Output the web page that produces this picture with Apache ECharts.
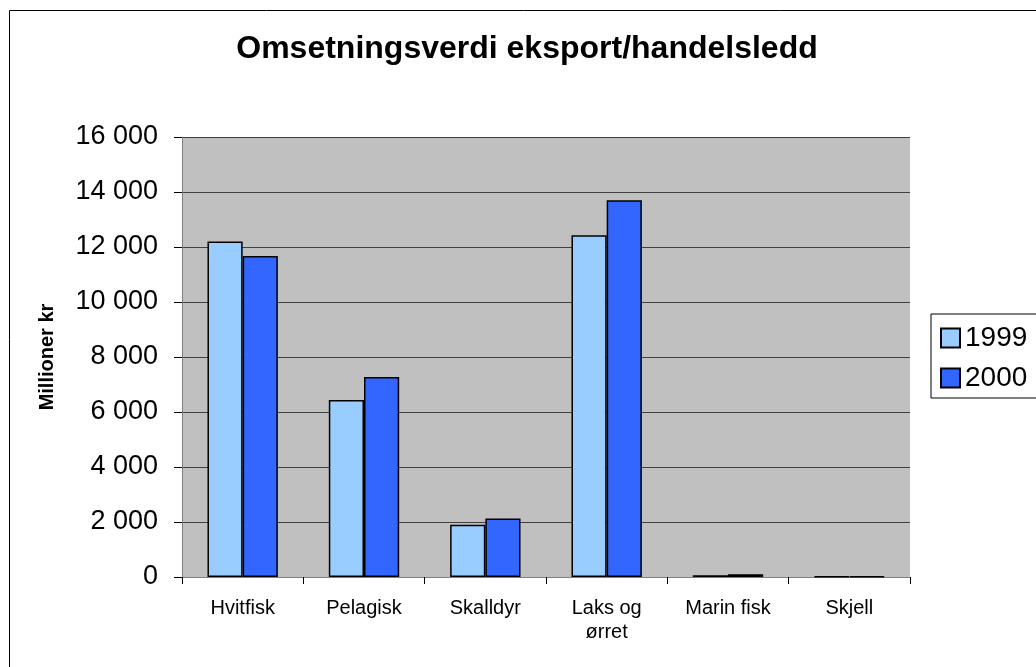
<!DOCTYPE html>
<html>
<head>
<meta charset="utf-8">
<script src="https://cdn.jsdelivr.net/npm/echarts@6/dist/echarts.min.js"></script>
<style>
  html, body { margin: 0; padding: 0; background: #fff; }
  #chart { width: 1036px; height: 667px; }
</style>
</head>
<body>
<div id="chart"></div>
<script>
var categories = ['Hvitfisk', 'Pelagisk', 'Skalldyr', 'Laks og\nørret', 'Marin fisk', 'Skjell'];
var values1999 = [12200, 6440, 1900, 12430, 60, 20];
var values2000 = [11670, 7270, 2130, 13700, 100, 20];
var yTicks = [0, 2000, 4000, 6000, 8000, 10000, 12000, 14000, 16000];

var font = 'Liberation Sans, Arial, sans-serif';

function fmt(v) {
  return String(v).replace(/\B(?=(\d{3})+(?!\d))/g, ' ');
}

var chart = echarts.init(document.getElementById('chart'));
var option = {
  backgroundColor: '#fff',
  animation: false,
  textStyle: { fontFamily: font, color: '#000' },
  title: {
    text: 'Omsetningsverdi eksport/handelsledd',
    left: 522, top: 28, textAlign: 'center',
    textStyle: { fontFamily: font, fontSize: 32, fontWeight: 'bold', color: '#000' }
  },
  graphic: [{
    type: 'rect', z: -1,
    shape: { x: 9.5, y: 10.5, width: 1040, height: 680 },
    style: { fill: 'none', stroke: '#000', lineWidth: 1 }
  }],
  legend: {
    orient: 'vertical',
    left: 931, top: 314,
    padding: [10, 30, 6, 9],
    itemGap: 12,
    itemWidth: 19, itemHeight: 19,
    borderColor: '#000', borderWidth: 1,
    backgroundColor: '#fff',
    icon: 'rect',
    textStyle: { fontFamily: font, fontSize: 28, color: '#000', lineHeight: 28 },
    data: ['1999', '2000']
  },
  grid: { left: 182, right: 126, top: 137, bottom: 90 },
  xAxis: {
    type: 'category',
    data: categories,
    axisLine: { lineStyle: { color: '#808080', width: 1 } },
    axisTick: { show: true, length: 7, lineStyle: { color: '#000' } },
    axisLabel: { fontFamily: font, fontSize: 20, color: '#000', margin: 19, lineHeight: 24 },
    splitArea: { show: false }
  },
  yAxis: {
    type: 'value',
    min: 0, max: 16000, interval: 2000,
    name: 'Millioner kr',
    nameLocation: 'middle',
    nameGap: 125,
    nameTextStyle: { fontFamily: font, fontSize: 20, fontWeight: 'bold', color: '#000' },
    axisLine: { show: true, lineStyle: { color: '#808080' } },
    axisTick: { show: true, length: 8, lineStyle: { color: '#000' } },
    axisLabel: { fontFamily: font, fontSize: 27, color: '#000', margin: 24, formatter: fmt },
    splitLine: { show: true, lineStyle: { color: '#404040', width: 1 } },
    splitArea: { show: true, areaStyle: { color: ['#C0C0C0'] } }
  },
  series: [{
    name: '1999', type: 'bar',
    data: values1999,
    barGap: '0%', barCategoryGap: '42%',
    itemStyle: { color: '#99CCFF', borderColor: '#000', borderWidth: 1.5 }
  }, {
    name: '2000', type: 'bar',
    data: values2000,
    itemStyle: { color: '#3366FF', borderColor: '#000', borderWidth: 1.5 }
  }]
};
chart.setOption(option);
</script>
</body>
</html>
